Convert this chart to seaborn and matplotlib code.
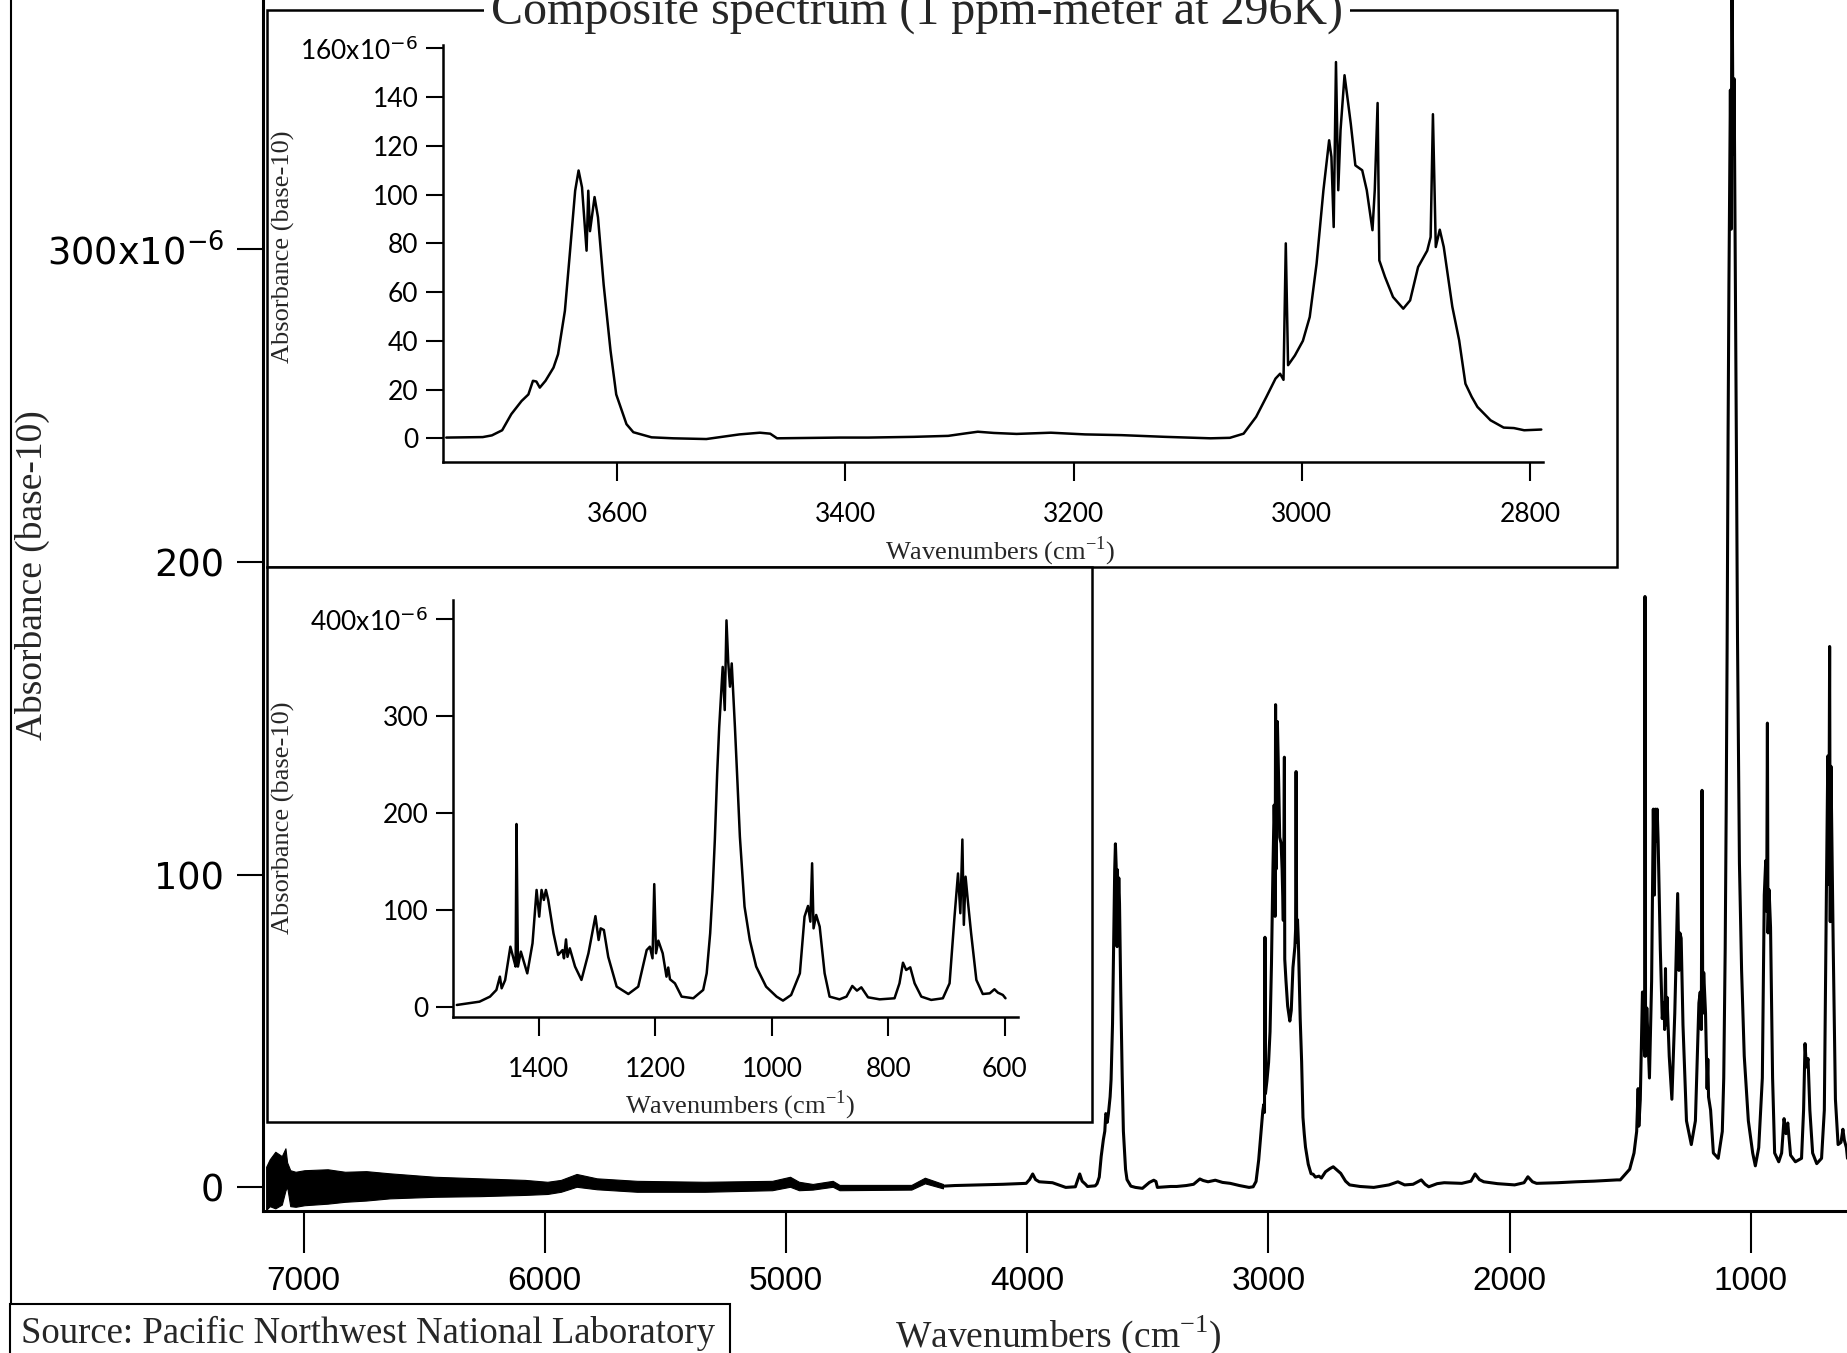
import matplotlib
matplotlib.use("Agg")  # headless rendering
import matplotlib.pyplot as plt
from matplotlib.patches import Rectangle
from matplotlib.lines import Line2D
import seaborn as sns

# ─── Data: wavenumbers (cm^-1) and absorbance (x1e-6) ────────────────────────
# noisy near-IR stretch, kept as a lower/upper envelope
noise_wn = [7155, 7140, 7117, 7090, 7075, 7068, 7055, 7033, 6996, 6900, 6828, 6740,
            6642, 6455, 6269, 6082, 5989, 5933, 5868, 5784, 5617, 5337, 5057, 4983,
            4946, 4889, 4806, 4778, 4480, 4424, 4349]
noise_top = [6.6, 9.0, 11.4, 10.0, 12.5, 8.0, 5.5, 5.0, 5.5, 5.8, 5.0, 5.2,
             4.5, 3.4, 2.9, 2.4, 1.8, 2.4, 4.3, 2.9, 2.1, 1.8, 2.1, 3.4,
             1.8, 1.1, 2.1, 0.8, 0.8, 3.1, 1.1]
noise_bot = [-7.2, -6.0, -6.7, -5.5, -1.0, 0.2, -6.0, -6.2, -5.7, -5.2, -4.6, -4.2,
             -3.5, -3.0, -2.8, -2.4, -2.1, -1.4, 0.2, -0.6, -1.4, -1.4, -0.9, 0.2,
             -0.9, -0.7, 0.2, -0.9, -0.7, 1.3, -0.3]

# 4350 - 3752
hi_wn = [4349, 4300, 4200, 4100, 4004, 3990, 3977, 3965, 3950, 3895, 3840, 3800,
         3790, 3782, 3772, 3758]
hi_ab = [0.4, 0.6, 0.8, 1.0, 1.3, 2.5, 4.3, 2.5, 1.8, 1.5, 0.0, 0.2,
         2.5, 4.3, 2.0, 1.0]

# O-H / C-H stretch region (upper inset)
oh_wn = [3750, 3718, 3710, 3701, 3693, 3684, 3678, 3674, 3671, 3668, 3663, 3656,
         3652, 3646, 3642, 3637, 3634, 3631, 3627, 3625.5, 3624, 3620, 3617, 3612,
         3606, 3601, 3592, 3586, 3570, 3551, 3522, 3493, 3475, 3466, 3460, 3405,
         3380, 3340, 3310, 3295, 3284, 3270, 3250, 3220, 3190, 3158, 3120, 3080,
         3063, 3051, 3040, 3031, 3023, 3019, 3016, 3014, 3012, 3006, 2999, 2993,
         2987, 2981, 2976, 2974, 2972, 2970, 2968, 2966, 2962.5, 2960, 2957, 2953,
         2947, 2943, 2938, 2936, 2933.5, 2932, 2927, 2920, 2911, 2905, 2898, 2890,
         2887, 2885, 2882.5, 2879, 2875.5, 2868, 2862, 2856.5, 2851, 2846, 2834.5, 2823,
         2814, 2805, 2790]
oh_ab = [0.3, 0.5, 1.2, 3.3, 9.9, 15.3, 18, 23.6, 23.3, 20.8, 23.6, 29,
         34.5, 52.3, 74, 101.6, 109.9, 103, 77, 101.6, 85, 99, 90.7, 63,
         36, 18, 5.8, 2.5, 0.4, 0.0, -0.3, 1.6, 2.3, 1.9, 0.0, 0.3,
         0.3, 0.6, 1.0, 2.0, 2.7, 2.2, 1.8, 2.3, 1.6, 1.3, 0.6, 0.0,
         0.2, 1.9, 8.8, 17, 24.5, 26.5, 24, 80, 30, 34, 40, 49.8,
         71.7, 101.8, 122.3, 115.5, 86.7, 154.4, 101.8, 126.4, 149, 140, 129, 112,
         110, 101.8, 85.4, 101.8, 137.6, 73, 66.2, 58, 53.2, 56.6, 70.3, 77,
         82.6, 133, 78.5, 85.6, 78.5, 54, 40.2, 22.4, 17, 12.9, 7.4, 4.4,
         4.2, 3.3, 3.6]

# 2780 - 1555
mid_wn = [2780, 2763, 2745, 2731, 2715, 2700, 2680, 2663, 2620, 2563, 2500, 2463,
          2435, 2400, 2366, 2350, 2335, 2300, 2271, 2198, 2160, 2143, 2125, 2107,
          2050, 1979, 1940, 1924, 1905, 1888, 1800, 1723, 1650, 1580, 1555]
mid_ab = [3.0, 5.0, 6.0, 6.6, 5.5, 4.5, 2.0, 0.8, 0.3, 0.0, 0.8, 1.8,
          0.8, 1.0, 2.4, 1.0, 0.2, 1.2, 1.5, 1.3, 2.0, 4.3, 2.5, 1.8,
          1.2, 0.8, 1.5, 3.4, 1.8, 1.3, 1.5, 1.8, 2.0, 2.3, 2.4]

# fingerprint region (lower inset)
fp_wn = [1541, 1502, 1484, 1473, 1467, 1464, 1458, 1449, 1443, 1440, 1438.5, 1436,
         1431, 1420, 1411, 1404, 1399.5, 1395.5, 1391.5, 1388, 1384, 1375, 1367, 1359.5,
         1357, 1353.5, 1351, 1347, 1338, 1327, 1315, 1303, 1297.5, 1294, 1288.5, 1281,
         1266.5, 1246.5, 1229.5, 1215, 1209.5, 1205, 1202, 1199, 1195, 1187.5, 1181, 1178,
         1175, 1166.5, 1155, 1135, 1118, 1112, 1106, 1101.8, 1098, 1094, 1090.5, 1084.5,
         1081, 1078, 1075, 1072, 1069, 1063.5, 1059, 1055, 1047, 1038, 1027, 1010,
         992, 981, 967, 952, 944, 938, 934, 931, 928.5, 924, 918, 909.5,
         901, 884, 872, 862, 854, 846.5, 835, 815, 789.5, 781, 775, 769.5,
         762.5, 755, 743.5, 726.5, 706.5, 695, 686.5, 680.5, 676.5, 673, 670.5, 667.5,
         663.5, 658, 649, 638, 626, 618, 612, 603.5, 599]
fp_ab = [2.4, 5.8, 11, 17.9, 31.6, 19.6, 28, 62.5, 48.8, 42, 189, 42,
         57.4, 35, 66, 121, 93.5, 121, 110.7, 121, 110.7, 76.3, 54, 59,
         50.5, 70, 52, 60.8, 42, 28.2, 55.7, 94, 69.4, 81.4, 79.7, 52,
         21.3, 13.7, 21.3, 59, 62.5, 50.5, 127, 55.7, 68.7, 55.7, 31.6, 41,
         28.9, 24.7, 11, 9.3, 17.9, 35, 76.3, 121, 172.5, 241, 289, 351,
         306.5, 399, 356, 330.6, 354.6, 289, 230, 176, 103.8, 69.4, 42, 21.3,
         11, 6.9, 12.7, 35, 93.5, 104.5, 88.3, 148.5, 81.4, 95.2, 83.2, 35,
         11, 8.2, 11, 22, 17.2, 20.6, 10.3, 8.2, 9.3, 24.7, 46, 38.5,
         41.2, 24.7, 11, 7.6, 9.3, 24.7, 93.5, 138, 97, 173, 85, 134.7,
         109, 76.3, 28.2, 13.7, 14.4, 18.6, 15.1, 12.7, 9.3]

main_yticks = [0, 100, 200, 300]
main_yticklabels = ["0", "100", "200", r"300x10$^{\mathsf{-6}}$"]
main_xticks = [7000, 6000, 5000, 4000, 3000, 2000, 1000]
oh_yticks = [0, 20, 40, 60, 80, 100, 120, 140, 160]
oh_xticks = [3600, 3400, 3200, 3000, 2800]
fp_yticks = [0, 100, 200, 300, 400]
fp_xticks = [1400, 1200, 1000, 800, 600]

# ─── Style ────────────────────────────────────────────────────────────────────
sns.set_theme(style="ticks")
plt.rcParams["font.family"] = ["Lato", "DejaVu Sans"]
plt.rcParams["mathtext.fontset"] = "custom"
plt.rcParams["mathtext.rm"] = "Liberation Serif"
plt.rcParams["mathtext.sf"] = "DejaVu Sans"
SERIF = "Liberation Serif"
W, H = 1847, 1353


def fx(px):
    return px / W


def fy(py):
    return 1 - py / H


def style_axes(ax, lw, ylen, xlen, ypad, xpad, size):
    sns.despine(ax=ax)
    for side in ("left", "bottom"):
        ax.spines[side].set_linewidth(lw)
        ax.spines[side].set_color("black")
    ax.tick_params(axis="y", length=ylen, width=1.5, pad=ypad, labelsize=size,
                   colors="black")
    ax.tick_params(axis="x", length=xlen, width=1.5, pad=xpad, labelsize=size,
                   colors="black")


fig = plt.figure(figsize=(W / 100, H / 100), dpi=100)
fig.patch.set_facecolor("white")

# ─── Main spectrum ────────────────────────────────────────────────────────────
ax = fig.add_axes([fx(263), fy(1210.7), fx(W - 263), 1210.7 / H])
ax.set_facecolor("white")
ax.fill_between(noise_wn, noise_bot, noise_top, color="black", lw=0.8)
main_wn = hi_wn + oh_wn + mid_wn + fp_wn
main_ab = hi_ab + oh_ab + mid_ab + fp_ab
sns.lineplot(x=main_wn, y=main_ab, ax=ax, color="black", linewidth=2.2,
             sort=False, estimator=None)
ax.set_xlim(7168, 601)
ax.set_ylim(-7.45, 379.8)
ax.set_yticks(main_yticks, main_yticklabels)
ax.set_xticks(main_xticks, [str(t) for t in main_xticks])
style_axes(ax, 2.2, 19, 30, 9, 10, 26.5)
ax.tick_params(axis="y", labelfontfamily="DejaVu Sans")
ax.tick_params(axis="x", labelsize=24, labelfontfamily="Liberation Sans")
ax.set_xlabel("Wavenumbers (cm$^{\\mathrm{-1}}$)", fontfamily=SERIF, fontsize=27)
ax.xaxis.set_label_coords(0.502, -0.1126)
ax.xaxis.label.set_va("baseline")
ax.set_ylabel("Absorbance (base-10)", fontfamily=SERIF, fontsize=27)
ax.yaxis.set_label_coords(-0.1458, 0.525)
ax.yaxis.label.set_va("center")

# ─── Inset frames ─────────────────────────────────────────────────────────────
for (x0, y0, x1, y1) in [(267, 10.4, 1617, 566.7), (267, 566.7, 1092, 1122)]:
    fig.add_artist(Rectangle((fx(x0), fy(y1)), fx(x1 - x0), (y1 - y0) / H,
                             transform=fig.transFigure, facecolor="white",
                             edgecolor="black", linewidth=1.8, zorder=2))

# ─── Upper inset: 3750 - 2790 ────────────────────────────────────────────────
ax1 = fig.add_axes([fx(443.3), fy(461.7), fx(1543 - 443.3), 416.7 / H], zorder=3)
ax1.patch.set_alpha(0)
sns.lineplot(x=oh_wn, y=oh_ab, ax=ax1, color="black", linewidth=1.8,
             sort=False, estimator=None)
ax1.set_xlim(3752.6, 2788.5)
ax1.set_ylim(-9.6, 161.4)
ax1.set_yticks(oh_yticks, [str(t) for t in oh_yticks[:-1]] + [r"160x10$^{\mathsf{-6}}$"])
ax1.set_xticks(oh_xticks, [str(t) for t in oh_xticks])
style_axes(ax1, 1.8, 12, 14, 6, 15, 19)
ax1.set_xlabel("Wavenumbers (cm$^{\\mathrm{-1}}$)", fontfamily=SERIF, fontsize=19)
ax1.xaxis.set_label_coords(0.506, -0.2143)
ax1.xaxis.label.set_va("center")
ax1.set_ylabel("Absorbance (base-10)", fontfamily=SERIF, fontsize=19)
ax1.yaxis.set_label_coords(-0.1458, 0.515)
ax1.yaxis.label.set_va("center")

# ─── Lower inset: 1547 - 600 ─────────────────────────────────────────────────
ax2 = fig.add_axes([fx(453.3), fy(1016.7), fx(1018.3 - 453.3), 416.7 / H], zorder=3)
ax2.patch.set_alpha(0)
sns.lineplot(x=fp_wn, y=fp_ab, ax=ax2, color="black", linewidth=1.8,
             sort=False, estimator=None)
ax2.set_xlim(1547, 577)
ax2.set_ylim(-9.7, 420)
ax2.set_yticks(fp_yticks, [str(t) for t in fp_yticks[:-1]] + [r"400x10$^{\mathsf{-6}}$"])
ax2.set_xticks(fp_xticks, [str(t) for t in fp_xticks])
style_axes(ax2, 1.8, 12, 14, 6, 15, 19)
ax2.set_xlabel("Wavenumbers (cm$^{\\mathrm{-1}}$)", fontfamily=SERIF, fontsize=19)
ax2.xaxis.set_label_coords(0.5074, -0.2119)
ax2.xaxis.label.set_va("center")
ax2.set_ylabel("Absorbance (base-10)", fontfamily=SERIF, fontsize=19)
ax2.yaxis.set_label_coords(-0.3014, 0.477)
ax2.yaxis.label.set_va("center")

# ─── Title, left rule, source box ────────────────────────────────────────────
fig.text(fx(917), fy(25), "Composite spectrum (1 ppm-meter at 296K)",
         ha="center", va="baseline", fontsize=34.6, fontfamily=SERIF, zorder=5,
         bbox=dict(boxstyle="square,pad=0.15", facecolor="white", edgecolor="none"))
fig.add_artist(Line2D([fx(11), fx(11)], [0, 1], color="black", linewidth=1.5,
                      transform=fig.transFigure, zorder=4))
fig.add_artist(Rectangle((fx(10), fy(1400)), fx(720), 96 / H,
                         transform=fig.transFigure, facecolor="white",
                         edgecolor="black", linewidth=1.5, zorder=4))
fig.text(fx(21), fy(1343), "Source: Pacific Northwest National Laboratory",
         ha="left", va="baseline", fontsize=26.5, fontfamily=SERIF, zorder=5)

fig.savefig("out.png", dpi=100)
plt.close(fig)
